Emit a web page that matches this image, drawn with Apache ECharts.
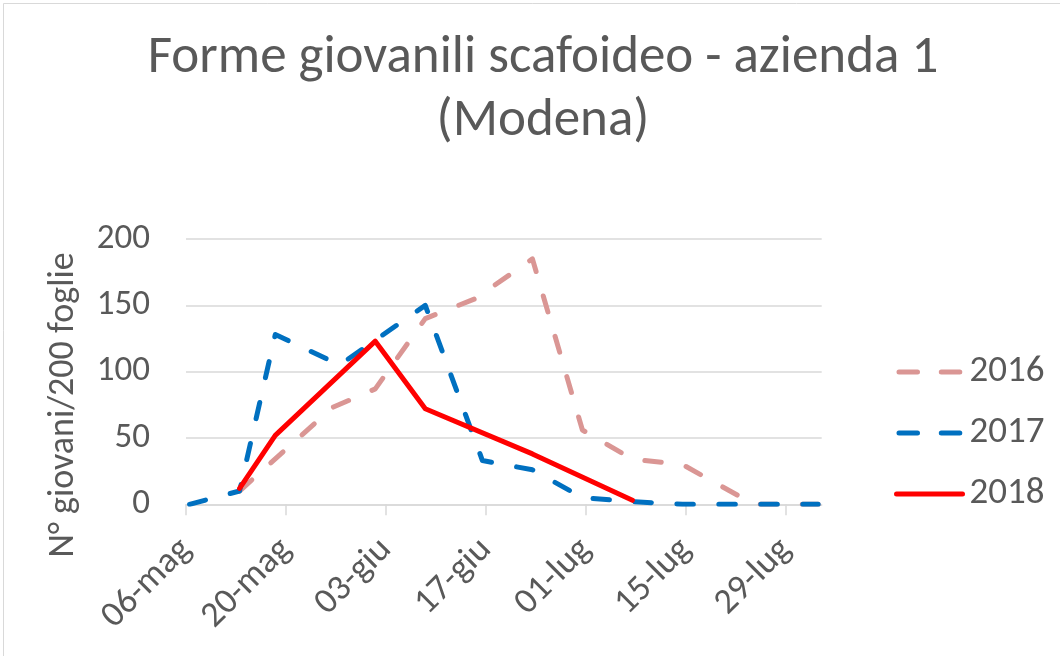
<!DOCTYPE html>
<html>
<head>
<meta charset="utf-8">
<script src="https://cdn.jsdelivr.net/npm/echarts@6/dist/echarts.min.js"></script>
<style>
html,body{margin:0;padding:0;background:#fff;}
#chart{width:1060px;height:656px;}
</style>
</head>
<body>
<div id="chart"></div>
<script>
// ---- data ----
const xTickLabels = ['06-mag','20-mag','03-giu','17-giu','01-lug','15-lug','29-lug'];
const yTicks = [0, 50, 100, 150, 200];

const dates2016  = ['13-mag','26-mag','01-giu','08-giu','15-giu','23-giu','30-giu','07-lug','14-lug','24-lug','02-ago'];
const values2016 = [10, 73, 87, 140, 155, 185, 56, 34, 30, 0, 0];

const dates2017  = ['06-mag','13-mag','18-mag','27-mag','08-giu','16-giu','23-giu','30-giu','07-lug','14-lug','21-lug','28-lug','02-ago'];
const values2017 = [0, 10, 128, 105, 150, 33, 26, 5, 2, 0, 0, 0, 0];

const dates2018  = ['13-mag','18-mag','01-giu','08-giu','23-giu','07-lug'];
const values2018 = [12, 52, 123, 72, 38, 3];

const seriesNames = ['2016', '2017', '2018'];
const seriesColors = ['#DA9694', '#0070C0', '#FF0000'];
const titleText = 'Forme giovanili scafoideo - azienda 1\n(Modena)';
const yAxisTitle = 'N° giovani/200 foglie';

// ---- helpers ----
const monthIdx = {mag: 4, giu: 5, lug: 6, ago: 7};
const base = Date.UTC(2018, 4, 6);
function dayOf(s) {
  const p = s.split('-');
  return Math.round((Date.UTC(2018, monthIdx[p[1]], +p[0]) - base) / 86400000);
}
// Excel date axis places a day's point in the middle of the day slot
function pairs(dates, vals) {
  return dates.map((d, i) => [dayOf(d) + 0.5, vals[i]]);
}
const tickDays = xTickLabels.map(dayOf);
const lastDay = dayOf('03-ago');

const FONT = 'Carlito, Lato, sans-serif';
const TXT = '#595959';
const GRID = '#D9D9D9';
const LW = 5;
const DASH = [16.5, 25.5];

const chart = echarts.init(document.getElementById('chart'), null, {renderer: 'canvas'});
chart.setOption({
  backgroundColor: '#ffffff',
  animation: false,
  textStyle: {fontFamily: FONT},
  title: {
    text: titleText,
    left: 538,
    top: 22,
    textAlign: 'center',
    textStyle: {fontFamily: FONT, fontSize: 53, fontWeight: 'normal', color: TXT, lineHeight: 63}
  },
  graphic: [
    {type: 'rect', shape: {x: 3.5, y: 3.5, width: 1100, height: 700}, style: {fill: 'none', stroke: GRID, lineWidth: 1}, silent: true},
    {type: 'text', x: 64, y: 405, rotation: Math.PI / 2,
     style: {text: yAxisTitle, fontFamily: FONT, fontSize: 36, fill: TXT, textAlign: 'center', textVerticalAlign: 'middle'}}
  ],
  legend: {
    orient: 'vertical',
    left: 889,
    top: 347,
    itemWidth: 66,
    itemHeight: 14,
    itemGap: 21,
    itemStyle: {opacity: 0},
    data: seriesNames.map((n, i) => ({
      name: n,
      lineStyle: i < 2
        ? {color: seriesColors[i], width: LW, type: [18.5, 23.8], dashOffset: -2.5, cap: 'round'}
        : {color: seriesColors[i], width: LW, type: 'solid', cap: 'round'}
    })),
    textStyle: {fontFamily: FONT, fontSize: 37, color: TXT, lineHeight: 40, padding: [0, 0, 0, 2]}
  },
  grid: {left: 186, right: 238.3, top: 239, bottom: 151.7, containLabel: false},
  xAxis: {
    type: 'value',
    min: 0,
    max: lastDay,
    splitLine: {show: false},
    axisLine: {show: true, lineStyle: {color: GRID, width: 1.5}},
    axisTick: {show: true, length: 11, lineStyle: {color: GRID, width: 1.5}, customValues: tickDays},
    axisLabel: {
      customValues: tickDays,
      rotate: 45,
      margin: 40,
      verticalAlign: 'middle',
      padding: [34, 0, 0, 0],
      fontFamily: FONT, fontSize: 36, color: TXT,
      formatter: function (v) { const i = tickDays.indexOf(Math.round(v)); return i >= 0 ? xTickLabels[i] : ''; }
    }
  },
  yAxis: {
    type: 'value',
    min: yTicks[0],
    max: yTicks[yTicks.length - 1],
    interval: 50,
    axisLine: {show: false},
    axisTick: {show: false},
    splitLine: {show: true, lineStyle: {color: GRID, width: 1.5}},
    axisLabel: {margin: 36, fontFamily: FONT, fontSize: 35, color: TXT}
  },
  series: [
    {name: seriesNames[0], type: 'line', data: pairs(dates2016, values2016), symbol: 'none', showSymbol: false,
     itemStyle: {color: seriesColors[0]},
     lineStyle: {color: seriesColors[0], width: LW, type: DASH, cap: 'round', join: 'round'}},
    {name: seriesNames[1], type: 'line', data: pairs(dates2017, values2017), symbol: 'none', showSymbol: false,
     itemStyle: {color: seriesColors[1]},
     lineStyle: {color: seriesColors[1], width: LW, type: DASH, cap: 'round', join: 'round'}},
    {name: seriesNames[2], type: 'line', data: pairs(dates2018, values2018), symbol: 'none', showSymbol: false,
     itemStyle: {color: seriesColors[2]},
     lineStyle: {color: seriesColors[2], width: LW, type: 'solid', cap: 'round', join: 'round'}}
  ]
});
</script>
</body>
</html>
